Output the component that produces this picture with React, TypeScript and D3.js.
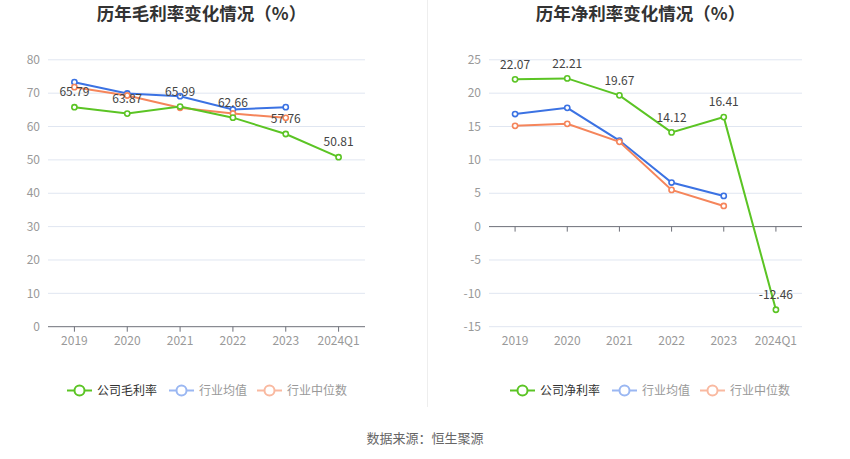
import * as d3 from "d3";

const years = ["2019", "2020", "2021", "2022", "2023", "2024Q1"];

// 毛利率
const grossCompany = [65.79, 63.87, 65.99, 62.66, 57.76, 50.81];
const grossIndustryAvg = [73.3, 69.9, 69.1, 65.1, 65.8];
const grossIndustryMedian = [71.8, 69.3, 65.6, 63.9, 62.6];
const grossTicks = [0, 10, 20, 30, 40, 50, 60, 70, 80];

// 净利率
const netCompany = [22.07, 22.21, 19.67, 14.12, 16.41, -12.46];
const netIndustryAvg = [16.87, 17.8, 12.9, 6.6, 4.6];
const netIndustryMedian = [15.1, 15.4, 12.7, 5.5, 3.1];
const netTicks = [-15, -10, -5, 0, 5, 10, 15, 20, 25];

const GREEN = "#5bc424";
const BLUE = "#3b72e3";
const ORANGE = "#f5855b";
const FONT = "'Noto Sans CJK SC', 'Noto Sans', sans-serif";

const Panel = ({ x0, x1, title, company, avg, median, ticks, legendName, legendX }: any) => {
  const top = 59.8;
  const bottom = 326.7;
  const x = d3.scaleBand().domain(years).range([x0, x1]);
  const y = d3.scaleLinear().domain([ticks[0], ticks[ticks.length - 1]]).range([bottom, top]);
  const cx = (i: number) => (x(years[i]) as number) + x.bandwidth() / 2;
  const line = d3
    .line<number>()
    .x((_d, i) => cx(i))
    .y((d) => y(d));
  const zeroY = y(0);

  const series = [
    { data: avg, color: BLUE },
    { data: median, color: ORANGE },
    { data: company, color: GREEN },
  ];

  const legend = [
    { name: legendName, color: GREEN, text: "#333", icon: GREEN },
    { name: "行业均值", color: BLUE, text: "#999", icon: "#9ab7f2" },
    { name: "行业中位数", color: ORANGE, text: "#999", icon: "#f9b9a0" },
  ];
  const legendOffsets = [0, 102, 190];

  return (
    <g>
      <text
        x={(x0 + x1) / 2 - 5}
        y={20}
        textAnchor="middle"
        fontSize={17.5}
        fontWeight="bold"
        fill="#333"
      >
        {title}
      </text>
      {ticks.map((t: number) => (
        <g key={t}>
          {t !== 0 && (
            <line x1={x0} x2={x1} y1={y(t)} y2={y(t)} stroke="#e0e6f1" strokeWidth={1} />
          )}
          <text x={x0 - 8} y={y(t)} dy="0.35em" textAnchor="end" fontSize={12} fill="#999">
            {t}
          </text>
        </g>
      ))}
      <line x1={x0} x2={x1} y1={zeroY} y2={zeroY} stroke="#6e7079" strokeWidth={1} />
      {years.map((yr, i) => (
        <g key={yr}>
          <line x1={cx(i)} x2={cx(i)} y1={zeroY} y2={zeroY + 5} stroke="#6e7079" />
          <text x={cx(i)} y={bottom + 18} textAnchor="middle" fontSize={12} fill="#999">
            {yr}
          </text>
        </g>
      ))}
      {series.map((s, k) => (
        <g key={k}>
          <path d={line(s.data) as string} fill="none" stroke={s.color} strokeWidth={2} />
          {s.data.map((d: number, i: number) => (
            <circle key={i} cx={cx(i)} cy={y(d)} r={2.6} fill="#fff" stroke={s.color} strokeWidth={1.6} />
          ))}
        </g>
      ))}
      {company.map((d: number, i: number) => (
        <text key={i} x={cx(i)} y={y(d) - 15} dy="0.35em" textAnchor="middle" fontSize={12} fill="#444">
          {d.toFixed(2)}
        </text>
      ))}
      {legend.map((l, k) => {
        const lx = legendX + legendOffsets[k];
        const ly = 390.5;
        return (
          <g key={l.name}>
            <line x1={lx} x2={lx + 25} y1={ly} y2={ly} stroke={l.icon} strokeWidth={2} />
            <circle cx={lx + 12.5} cy={ly} r={5} fill="#fff" stroke={l.icon} strokeWidth={2} />
            <text x={lx + 30} y={ly} dy="0.35em" fontSize={12} fill={l.text}>
              {l.name}
            </text>
          </g>
        );
      })}
    </g>
  );
};

export default function App() {
  return (
    <svg
      width={850}
      height={459}
      style={{ position: "absolute", left: 0, top: 0, fontFamily: FONT, background: "#fff" }}
    >
      <line x1={427.5} x2={427.5} y1={0} y2={407} stroke="#eeeeee" strokeWidth={1} />
      <Panel
        x0={48}
        x1={365}
        title="历年毛利率变化情况（%）"
        company={grossCompany}
        avg={grossIndustryAvg}
        median={grossIndustryMedian}
        ticks={grossTicks}
        legendName="公司毛利率"
        legendX={67}
      />
      <Panel
        x0={489}
        x1={802}
        title="历年净利率变化情况（%）"
        company={netCompany}
        avg={netIndustryAvg}
        median={netIndustryMedian}
        ticks={netTicks}
        legendName="公司净利率"
        legendX={510}
      />
      <text x={425} y={438} dy="0.35em" textAnchor="middle" fontSize={13} fill="#666">
        数据来源：恒生聚源
      </text>
    </svg>
  );
}
